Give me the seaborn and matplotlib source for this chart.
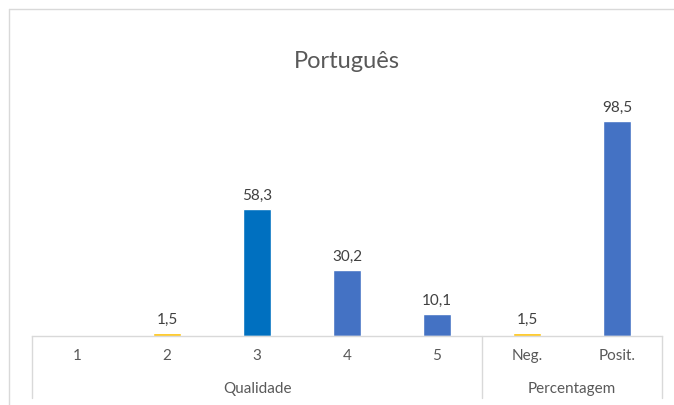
import numpy as np
import pandas as pd
import matplotlib
matplotlib.use("Agg")
import matplotlib.pyplot as plt
import matplotlib.transforms as mtransforms
import seaborn as sns

# chart data
categories = ["1", "2", "3", "4", "5", "Neg.", "Posit."]
groups = ["Qualidade", "Qualidade", "Qualidade", "Qualidade", "Qualidade",
          "Percentagem", "Percentagem"]
values = [np.nan, 1.5, 58.3, 30.2, 10.1, 1.5, 98.5]
labels = ["", "1,5", "58,3", "30,2", "10,1", "1,5", "98,5"]
bar_colors = ["#4472C4", "#FFC000", "#0070C0", "#4472C4", "#4472C4",
              "#FFC000", "#4472C4"]

df = pd.DataFrame({"cat": categories, "group": groups, "value": values})

sns.set_style("white")
plt.rcParams["font.family"] = ["Lato", "DejaVu Sans"]

fig = plt.figure(figsize=(6.74, 4.06), dpi=100)
W, H = 674, 406
# axes: x 32..662 px, y 97..337 px
ax = fig.add_axes([32 / W, (H - 337) / H, (662 - 32) / W, (337 - 97) / H])

sns.barplot(data=df, x="cat", y="value", hue="cat", order=categories,
            palette=dict(zip(categories, bar_colors)), legend=False,
            width=0.32, ax=ax, saturation=1)

ymax = 240 / 2.18
ax.set_ylim(0, ymax)
ax.set_xlim(-0.5, len(categories) - 0.5)

# data labels
for i, (v, lab) in enumerate(zip(values, labels)):
    if lab:
        ax.annotate(lab, (i, v), xytext=(0, 5), textcoords="offset points",
                    ha="center", va="bottom", fontsize=11, color="#404040")

# axis styling
for s in ["top", "right", "left"]:
    ax.spines[s].set_visible(False)
ax.spines["bottom"].set_color("#D9D9D9")
ax.spines["bottom"].set_linewidth(1)
ax.set_yticks([])
ax.set_xlabel("")
ax.set_ylabel("")
ax.tick_params(axis="x", length=0, pad=9, labelsize=11, labelcolor="#595959")

# multi-level category separators and group labels
trans = mtransforms.blended_transform_factory(ax.transData, ax.transAxes)
for xpos in [-0.5, 4.5, 6.5]:
    ax.plot([xpos, xpos], [0, -0.26], transform=trans, color="#D9D9D9",
            lw=1, clip_on=False)
for g in ["Qualidade", "Percentagem"]:
    idx = [i for i, gg in enumerate(groups) if gg == g]
    ax.text(np.mean(idx), -(389 - 337) / 240, g, transform=trans,
            ha="center", va="center", fontsize=11, color="#595959")

# title
fig.text(347 / W, 1 - 62 / H, "Português", ha="center", va="center",
         fontsize=17, color="#595959")

# chart frame
fig.add_artist(plt.Line2D([9 / W, 1], [1 - 10 / H, 1 - 10 / H],
                          transform=fig.transFigure, color="#D9D9D9", lw=1))
fig.add_artist(plt.Line2D([9 / W, 9 / W], [0, 1 - 10 / H],
                          transform=fig.transFigure, color="#D9D9D9", lw=1))

fig.savefig("out.png", dpi=100)
